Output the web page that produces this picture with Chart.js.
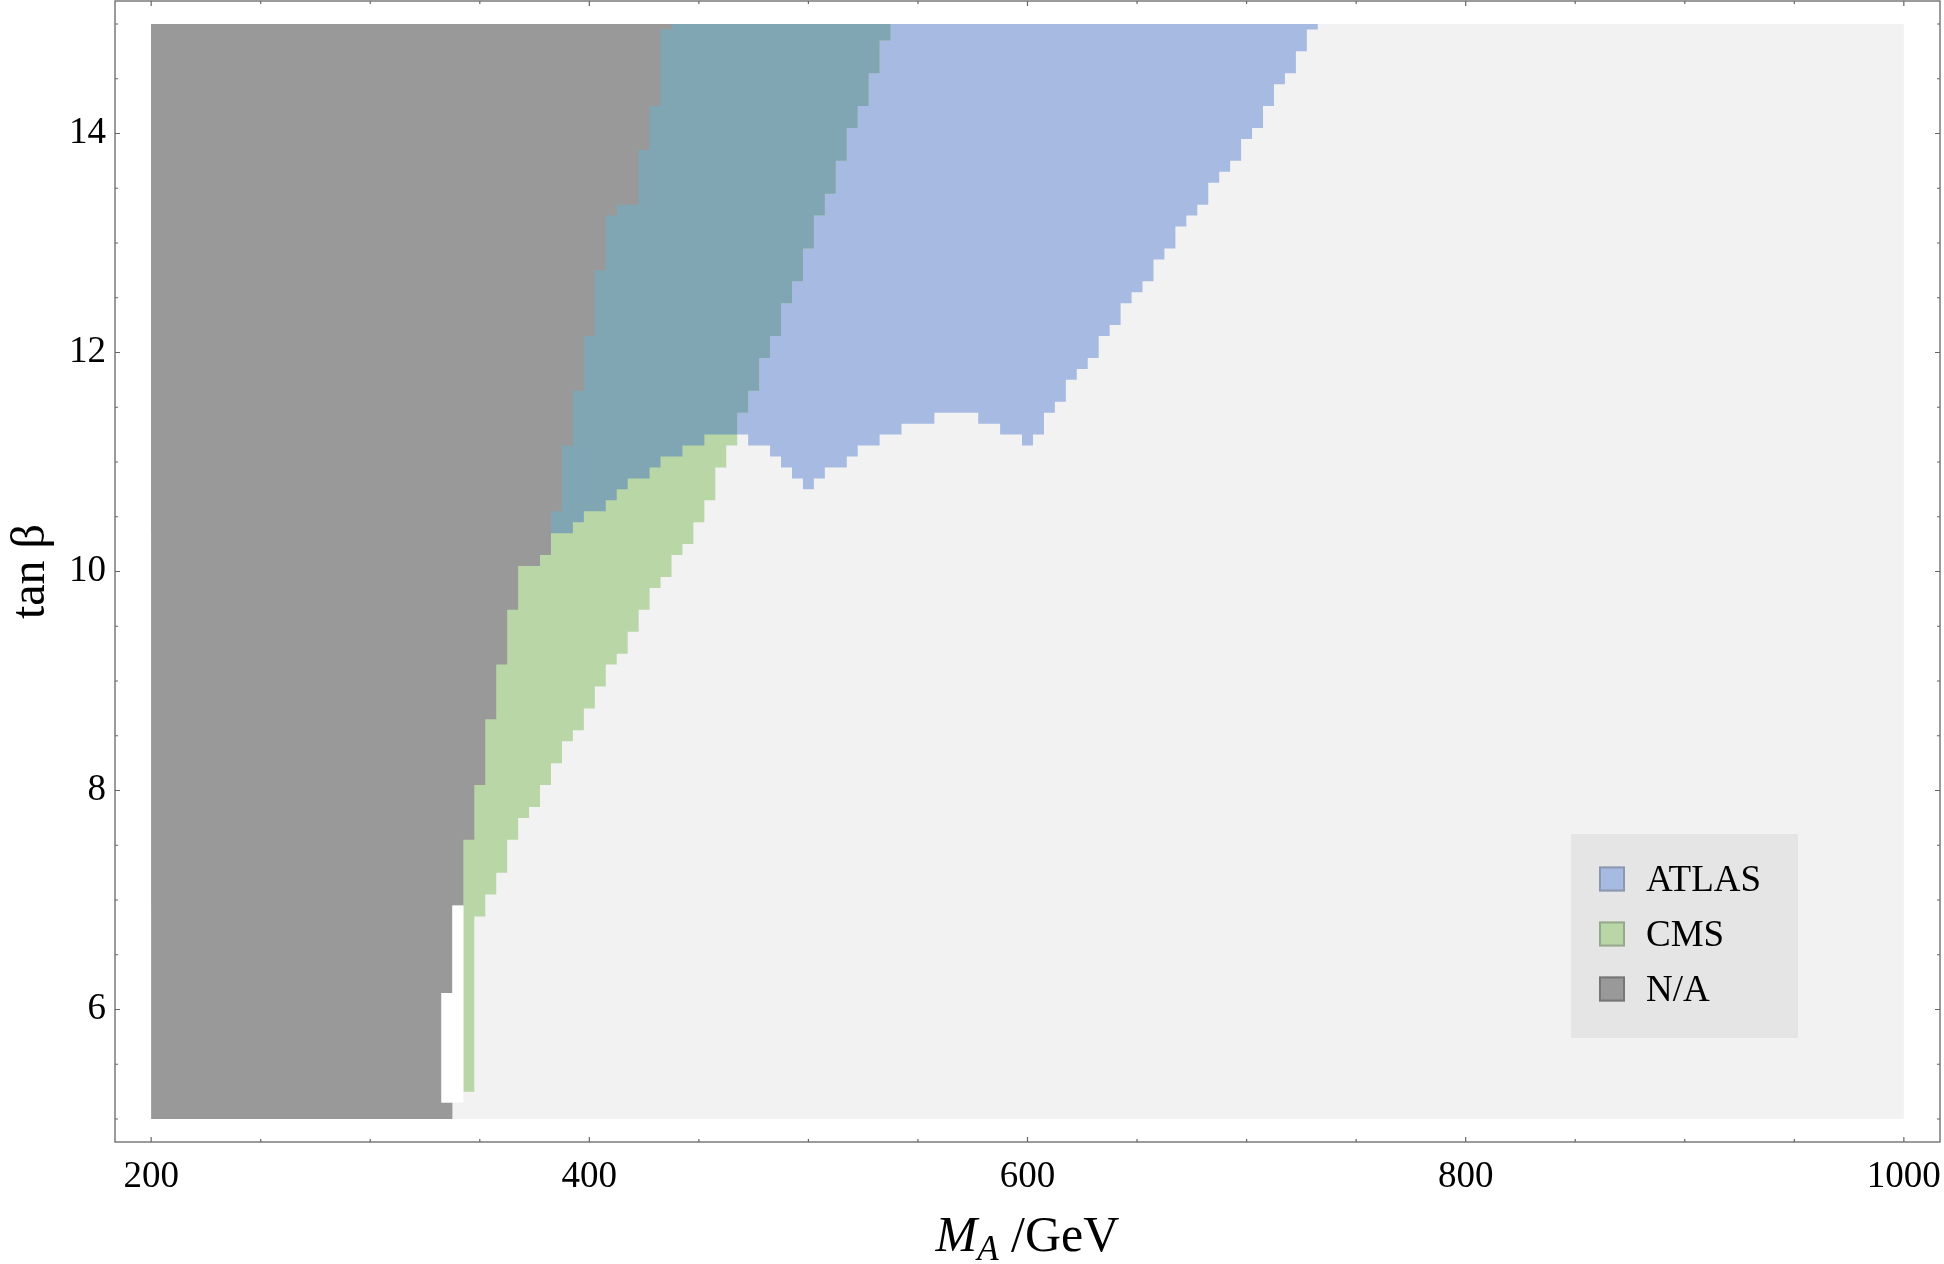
<!DOCTYPE html>
<html>
<head>
<meta charset="utf-8">
<script src="https://cdn.jsdelivr.net/npm/chart.js@4.4.1/dist/chart.umd.min.js"></script>
<style>
html,body{margin:0;padding:0;background:#ffffff;}
canvas{display:block;}
</style>
</head>
<body>
<canvas id="c" width="1944" height="1264"></canvas>
<script>
// ================= DATA =================
// Scan grid: M_A columns every 5 GeV, tan(beta) rows every 0.1
const maRange = [200, 1000];
const tanRange = [5, 15];
const maStep = 5;
const tanStep = 0.1;

// N/A region (gray): first tan(beta) row of each run and the M_A edge where N/A ends
const naStartTan = [5.0, 5.2, 6.2, 7.0, 7.6, 8.1, 8.7, 9.2, 9.7, 10.1, 10.2, 10.6, 11.2, 11.7, 12.2, 12.8, 13.3, 13.4, 13.9, 14.3, 15.0];
const naEdgeMA   = [337.5, 332.5, 337.5, 342.5, 347.5, 352.5, 357.5, 362.5, 367.5, 377.5, 382.5, 387.5, 392.5, 397.5, 402.5, 407.5, 412.5, 422.5, 427.5, 432.5, 437.5];

// CMS excluded region: first row of each run and the right M_A edge
const cmsStartTan = [5.3, 6.9, 7.1, 7.3, 7.6, 7.8, 7.9, 8.1, 8.3, 8.5, 8.6, 8.8, 9.0, 9.2, 9.3, 9.5, 9.7, 9.9, 10.0, 10.2, 10.3, 10.5, 10.7, 11.0, 11.2, 11.5, 11.7, 12.0, 12.2, 12.5, 12.7, 13.0, 13.3, 13.5, 13.8, 14.1, 14.3, 14.6, 14.9];
const cmsEdgeMA   = [347.5, 352.5, 357.5, 362.5, 367.5, 372.5, 377.5, 382.5, 387.5, 392.5, 397.5, 402.5, 407.5, 412.5, 417.5, 422.5, 427.5, 432.5, 437.5, 442.5, 447.5, 452.5, 457.5, 462.5, 467.5, 472.5, 477.5, 482.5, 487.5, 492.5, 497.5, 502.5, 507.5, 512.5, 517.5, 522.5, 527.5, 532.5, 537.5];
// CMS left edge: a blank strip separates it from N/A up to row 6.9; from 7.0 it meets the N/A region
const cmsLeftStartTan = [5.3, 7.0];
const cmsLeftMA       = [342.5, 200];

// ATLAS excluded region: first M_A column of each run and the lowest excluded tan(beta) row
const atlasStartMA = [385, 395, 400, 410, 415, 420, 430, 435, 445, 455, 475, 485, 490, 495, 500, 505, 510, 520, 525, 535, 545, 560, 580, 590, 600, 605, 610, 615, 620, 625, 630, 635, 640, 645, 650, 655, 660, 665, 670, 675, 680, 685, 690, 695, 700, 705, 710, 715, 720, 725, 730];
const atlasLowTan  = [10.4, 10.5, 10.6, 10.7, 10.8, 10.9, 11.0, 11.1, 11.2, 11.3, 11.2, 11.1, 11.0, 10.9, 10.8, 10.9, 11.0, 11.1, 11.2, 11.3, 11.4, 11.5, 11.4, 11.3, 11.2, 11.3, 11.5, 11.6, 11.8, 11.9, 12.0, 12.2, 12.3, 12.5, 12.6, 12.7, 12.9, 13.0, 13.2, 13.3, 13.4, 13.6, 13.7, 13.8, 14.0, 14.1, 14.3, 14.5, 14.6, 14.8, 15.0];
const atlasLastMA = 730;

// Blank (not evaluated) cells between N/A and CMS
const blankFirstTan = 5.2;
const blankLastTan = 6.9;
const blankRightMA = 342.5;

// Axis ticks
const xTickLabels = [200, 400, 600, 800, 1000];
const xMinorStep = 50;
const yTickLabels = [6, 8, 10, 12, 14];
const yMinorStep = 0.5;

// ================= STYLE =================
const COL = {
  bg: '#f2f2f2', atlas: '#a7bbe2', cms: '#b8d6a6', both: '#80a5b3', na: '#999999', blank: '#ffffff'
};
const FAM = '"Liberation Serif", "Times New Roman", Times, serif';

// ================= helpers =================
const EPS = 1e-6;
function lookup(starts, values, v) {
  let r = null;
  for (let i = 0; i < starts.length; i++) if (v >= starts[i] - EPS) r = values[i];
  return r;
}
const nRows = Math.round((tanRange[1] - tanRange[0]) / tanStep);
function rowTan(j) { return Math.round(tanRange[0] / tanStep + j) * tanStep; }
function rowLo(t) { return Math.max(tanRange[0], t - tanStep / 2); }
function rowHi(t) { return Math.min(tanRange[1], t + tanStep / 2); }
function rowPolygon(rows) {
  const pts = [];
  for (const r of rows) { pts.push({x: r.right, y: rowLo(r.t)}, {x: r.right, y: rowHi(r.t)}); }
  for (let i = rows.length - 1; i >= 0; i--) {
    const r = rows[i];
    pts.push({x: r.left, y: rowHi(r.t)}, {x: r.left, y: rowLo(r.t)});
  }
  return pts;
}
function atlasLow(m) { return lookup(atlasStartMA, atlasLowTan, m); }

// N/A rows
const naRows = [];
for (let j = 0; j <= nRows; j++) {
  const t = rowTan(j);
  naRows.push({t, left: maRange[0], right: lookup(naStartTan, naEdgeMA, t)});
}
// CMS rows
const cmsRows = [];
for (let j = 0; j <= nRows; j++) {
  const t = rowTan(j);
  const right = lookup(cmsStartTan, cmsEdgeMA, t);
  if (right === null) continue;
  cmsRows.push({t, left: lookup(cmsLeftStartTan, cmsLeftMA, t), right});
}
// Overlap ATLAS & CMS rows
const bothRows = [];
for (let j = 0; j <= nRows; j++) {
  const t = rowTan(j);
  const cmsR = lookup(cmsStartTan, cmsEdgeMA, t);
  if (cmsR === null) continue;
  let right = null;
  for (let m = atlasStartMA[0]; m <= atlasLastMA && m + maStep / 2 <= cmsR + EPS; m += maStep) {
    if (atlasLow(m) <= t + EPS) right = m + maStep / 2; else break;
  }
  if (right !== null) bothRows.push({t, left: maRange[0], right});
}
// Blank rows
const blankRows = [];
for (let j = 0; j <= nRows; j++) {
  const t = rowTan(j);
  if (t < blankFirstTan - EPS || t > blankLastTan + EPS) continue;
  blankRows.push({t, left: lookup(naStartTan, naEdgeMA, t), right: blankRightMA});
}
// ATLAS polygon (column based)
const atlasPts = [{x: maRange[0], y: tanRange[1]}];
for (let i = 0; i < atlasStartMA.length; i++) {
  const x0 = i === 0 ? maRange[0] : atlasStartMA[i] - maStep / 2;
  const x1 = (i + 1 < atlasStartMA.length ? atlasStartMA[i + 1] : atlasLastMA + maStep) - maStep / 2;
  const yb = rowLo(atlasLowTan[i]);
  atlasPts.push({x: x0, y: yb}, {x: x1, y: yb});
}
atlasPts.push({x: atlasLastMA + maStep / 2, y: tanRange[1]});

const bgPts = [
  {x: maRange[0], y: tanRange[0]}, {x: maRange[1], y: tanRange[0]},
  {x: maRange[1], y: tanRange[1]}, {x: maRange[0], y: tanRange[1]}
];

function polyDataset(label, pts, color, order, legend, swatchBorder) {
  return {
    label, data: pts, showLine: true, fill: 'shape',
    backgroundColor: color, borderColor: 'rgba(0,0,0,0)', borderWidth: 0,
    pointRadius: 0, pointHoverRadius: 0, pointHitRadius: 0, tension: 0,
    order, legend, swatchBorder
  };
}

const datasets = [
  polyDataset('allowed', bgPts, COL.bg, 10, false),
  polyDataset('ATLAS', atlasPts, COL.atlas, 9, true, '#8d97ad'),
  polyDataset('CMS', rowPolygon(cmsRows), COL.cms, 8, true, '#98a890'),
  polyDataset('ATLAS+CMS', rowPolygon(bothRows), COL.both, 7, false),
  polyDataset('N/A', rowPolygon(naRows), COL.na, 6, true, '#777777'),
  polyDataset('blank', rowPolygon(blankRows), COL.blank, 5, false)
];

// tick value lists
const xTicksAll = [];
for (let v = xTickLabels[0]; v <= xTickLabels[xTickLabels.length - 1] + EPS; v += xMinorStep) xTicksAll.push(v);
const yTicksAll = [];
for (let k = 0; ; k++) {
  const v = tanRange[0] + k * yMinorStep;
  if (v > tanRange[1] + EPS) break;
  yTicksAll.push(Math.round(v * 10) / 10);
}

const framePlugin = {
  id: 'frameTicksTitles',
  afterDraw(chart) {
    const {ctx, chartArea: a, scales} = chart;
    const xs = scales.x, ys = scales.y;
    ctx.save();
    // frame
    ctx.strokeStyle = '#666666';
    ctx.lineWidth = 1.3;
    ctx.strokeRect(a.left, a.top, a.right - a.left, a.bottom - a.top);
    // ticks on all sides, pointing inward
    ctx.lineWidth = 1.2;
    ctx.beginPath();
    for (const tk of xs.ticks) {
      const p = xs.getPixelForValue(tk.value);
      const len = xTickLabels.includes(tk.value) ? 5 : 3;
      ctx.moveTo(p, a.bottom); ctx.lineTo(p, a.bottom - len);
      ctx.moveTo(p, a.top); ctx.lineTo(p, a.top + len);
    }
    for (const tk of ys.ticks) {
      const p = ys.getPixelForValue(tk.value);
      const len = yTickLabels.includes(tk.value) ? 5 : 3;
      ctx.moveTo(a.left, p); ctx.lineTo(a.left + len, p);
      ctx.moveTo(a.right, p); ctx.lineTo(a.right - len, p);
    }
    ctx.stroke();

    // x axis title:  M_A /GeV
    ctx.fillStyle = '#000000';
    ctx.textBaseline = 'alphabetic';
    ctx.textAlign = 'left';
    const parts = [
      {t: 'M', font: 'italic 50px ' + FAM, dy: 0},
      {t: 'A', font: 'italic 35px ' + FAM, dy: 9},
      {t: ' /GeV', font: '50px ' + FAM, dy: 0}
    ];
    let total = 0;
    for (const p of parts) { ctx.font = p.font; p.w = ctx.measureText(p.t).width; total += p.w; }
    let x0 = (a.left + a.right) / 2 - total / 2;
    const base = 1251;
    for (const p of parts) { ctx.font = p.font; ctx.fillText(p.t, x0, base + p.dy); x0 += p.w; }

    // y axis title: tan β
    ctx.save();
    ctx.translate(31, (a.top + a.bottom) / 2);
    ctx.rotate(-Math.PI / 2);
    ctx.textAlign = 'center';
    ctx.textBaseline = 'middle';
    ctx.font = '48px ' + FAM;
    ctx.fillText('tan \u03B2', 0, 0);
    ctx.restore();

    // legend
    const items = chart.data.datasets.filter(d => d.legend);
    ctx.fillStyle = '#e5e5e5';
    ctx.fillRect(1571, 834, 227, 204);
    items.forEach((d, i) => {
      const cy = 879 + i * 55;
      ctx.fillStyle = d.backgroundColor;
      ctx.fillRect(1599, cy - 12.5, 26, 25);
      ctx.strokeStyle = d.swatchBorder;
      ctx.lineWidth = 2;
      ctx.strokeRect(1600, cy - 11.5, 24, 23);
      ctx.fillStyle = '#000000';
      ctx.font = '37px ' + FAM;
      ctx.textAlign = 'left';
      ctx.textBaseline = 'alphabetic';
      ctx.fillText(d.label, 1646, cy + 12);
    });
    ctx.restore();
  }
};

new Chart(document.getElementById('c').getContext('2d'), {
  type: 'scatter',
  data: {datasets},
  options: {
    responsive: false,
    animation: false,
    events: [],
    layout: {padding: {top: 1, right: 4, left: 0, bottom: 0}, autoPadding: false},
    plugins: {legend: {display: false}, tooltip: {enabled: false}},
    scales: {
      x: {
        type: 'linear', min: 183.5, max: 1016.5,
        grid: {display: false, drawTicks: false}, border: {display: false},
        afterBuildTicks: s => { s.ticks = xTicksAll.map(v => ({value: v})); },
        afterFit: s => { s.height = 122; s.paddingLeft = 0; s.paddingRight = 0; s.paddingTop = 0; s.paddingBottom = 0; },
        ticks: {
          autoSkip: false, maxRotation: 0, minRotation: 0, padding: 13, color: '#000000',
          font: {family: FAM, size: 37},
          callback: v => (xTickLabels.includes(v) ? String(v) : '')
        }
      },
      y: {
        type: 'linear', min: 4.79, max: 15.21,
        grid: {display: false, drawTicks: false}, border: {display: false},
        afterBuildTicks: s => { s.ticks = yTicksAll.map(v => ({value: v})); },
        afterFit: s => { s.width = 115; s.paddingLeft = 0; s.paddingRight = 0; s.paddingTop = 0; s.paddingBottom = 0; },
        ticks: {
          autoSkip: false, padding: 9, color: '#000000',
          font: {family: FAM, size: 37},
          callback: v => (yTickLabels.includes(v) ? String(v) : '')
        }
      }
    }
  },
  plugins: [framePlugin]
});
</script>
</body>
</html>
